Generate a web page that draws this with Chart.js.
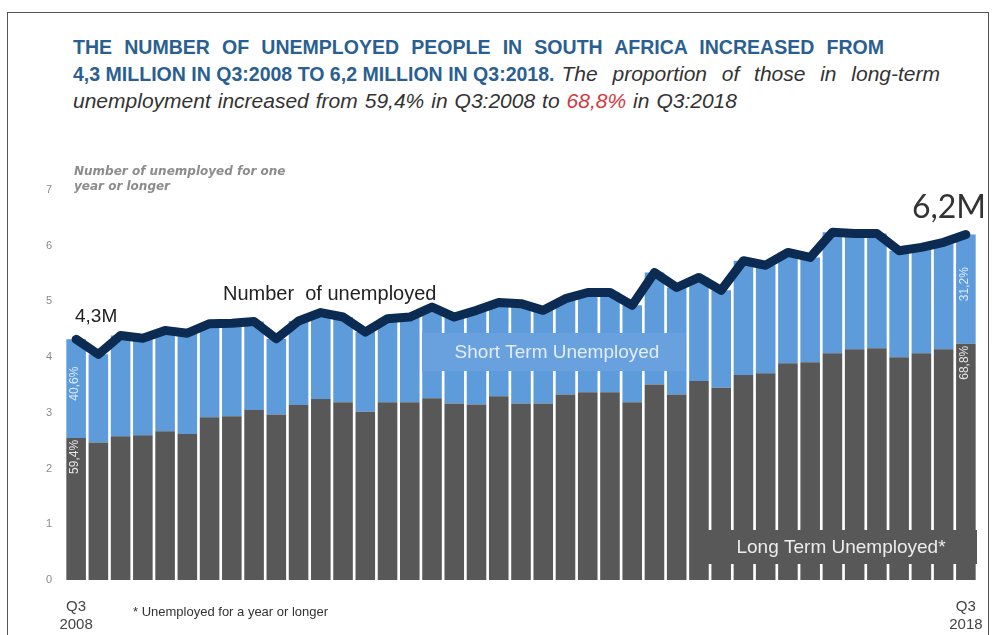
<!DOCTYPE html>
<html><head><meta charset="utf-8">
<script src="https://cdn.jsdelivr.net/npm/chart.js@4.4.1/dist/chart.umd.min.js"></script>
<style>
html,body{margin:0;padding:0;background:#fff;}
#wrap{position:relative;width:996px;height:635px;overflow:hidden;background:#fff;}
#frame{position:absolute;left:7px;top:12px;width:982px;height:700px;border:1px solid #555;box-sizing:border-box;}
.seg{position:absolute;white-space:nowrap;transform-origin:0 0;line-height:26px;font-family:"Liberation Sans",Arial,sans-serif;}
.b{font-weight:bold;font-size:21px;color:#2b5f91;}
.it{font-style:italic;font-size:21px;color:#333;}
.red{color:#d2393f;}
canvas{position:absolute;left:0;top:0;}
</style></head><body>
<div id="wrap">
<div id="frame"></div>
<div class="seg b" id="t1" data-scale="0.93" style="left:73px;top:34px;">THE NUMBER OF UNEMPLOYED PEOPLE IN SOUTH AFRICA INCREASED FROM</div>
<div class="seg b" id="t2" data-scale="0.93" style="left:73px;top:61px;">4,3 MILLION IN Q3:2008 TO 6,2 MILLION IN Q3:2018.</div>
<div class="seg it" id="t3" data-scale="1" style="left:580px;top:61px;">The proportion of those in long-term</div>
<div class="seg it" id="t4" data-scale="1" style="left:73px;top:88px;">unemployment increased from 59,4% in Q3:2008 to <span class="red">68,8%</span> in Q3:2018</div>
<canvas id="c" width="996" height="635"></canvas>
</div>
<script>
// fit text segments to the widths measured in the reference
function fit(el, T){
  const s = parseFloat(el.dataset.scale);
  const w0 = el.getBoundingClientRect().width;
  const n = (el.textContent.match(/ /g) || []).length;
  el.style.wordSpacing = ((T / s - w0) / n) + 'px';
  el.style.transform = 'scaleX(' + s + ')';
}
const t1=document.getElementById('t1'), t2=document.getElementById('t2'), t3=document.getElementById('t3'), t4=document.getElementById('t4');
fit(t1, 811);
t2.style.transform='scaleX(0.93)';
const t2right = 73 + t2.getBoundingClientRect().width;
t3.style.left = (t2right + 7) + 'px';
fit(t3, 940 - (t2right + 7));
fit(t4, 664);

const categories = [
 "Q3 2008","Q4 2008","Q1 2009","Q2 2009","Q3 2009","Q4 2009","Q1 2010","Q2 2010","Q3 2010","Q4 2010",
 "Q1 2011","Q2 2011","Q3 2011","Q4 2011","Q1 2012","Q2 2012","Q3 2012","Q4 2012","Q1 2013","Q2 2013",
 "Q3 2013","Q4 2013","Q1 2014","Q2 2014","Q3 2014","Q4 2014","Q1 2015","Q2 2015","Q3 2015","Q4 2015",
 "Q1 2016","Q2 2016","Q3 2016","Q4 2016","Q1 2017","Q2 2017","Q3 2017","Q4 2017","Q1 2018","Q2 2018","Q3 2018"
];
// millions
const totalUnemployed = [4.32,4.05,4.39,4.34,4.48,4.43,4.60,4.61,4.64,4.33,4.65,4.80,4.72,4.45,4.69,4.72,4.90,4.72,4.84,4.98,4.96,4.84,5.05,5.16,5.16,4.93,5.52,5.25,5.43,5.20,5.73,5.65,5.88,5.79,6.24,6.22,6.22,5.91,5.97,6.06,6.20];
const longTerm = [2.55,2.47,2.58,2.60,2.67,2.62,2.92,2.94,3.05,2.97,3.14,3.25,3.19,3.02,3.19,3.19,3.26,3.17,3.15,3.30,3.17,3.17,3.33,3.37,3.37,3.19,3.51,3.33,3.57,3.45,3.68,3.71,3.89,3.91,4.07,4.14,4.16,4.00,4.07,4.14,4.24];
const shortTerm = [1.77,1.58,1.81,1.74,1.81,1.81,1.68,1.67,1.59,1.36,1.51,1.55,1.53,1.43,1.50,1.53,1.64,1.55,1.69,1.68,1.79,1.67,1.72,1.79,1.79,1.74,2.01,1.92,1.86,1.75,2.05,1.94,1.99,1.88,2.17,2.08,2.06,1.91,1.90,1.92,1.96];
const yTicks = [0,1,2,3,4,5,6,7];
const firstLabel = ["Q3","2008"];
const lastLabel = ["Q3","2018"];
const pctStart = {short:"40,6%", long:"59,4%"};
const pctEnd = {short:"31,2%", long:"68,8%"};

const annot = {
  id:'annot',
  afterDatasetsDraw(chart){
    const {ctx, scales:{x,y}} = chart;
    ctx.save();
    // Short term box
    ctx.fillStyle = '#68a1de';
    ctx.fillRect(422,333,263,38);
    ctx.fillStyle = '#e3edf8';
    ctx.font = '19px "Liberation Sans", Arial, sans-serif';
    ctx.textAlign='center';ctx.textBaseline='middle';
    ctx.fillText('Short Term Unemployed', 557, 353);
    // Long term box
    ctx.fillStyle = '#585858';
    ctx.fillRect(700,530,277,34);
    ctx.fillStyle = '#ececec';
    ctx.fillText('Long Term Unemployed*', 841, 548);
    // rotated percentages
    ctx.font = '12px "Liberation Sans", Arial, sans-serif';
    const rot = (txt, px, py, align, col) => {
      ctx.save(); ctx.translate(px,py); ctx.rotate(-Math.PI/2);
      ctx.textAlign=align; ctx.textBaseline='middle'; ctx.fillStyle=col;
      ctx.fillText(txt,0,0); ctx.restore();
    };
    const last = categories.length-1;
    [[0,pctStart],[last,pctEnd]].forEach(([i,p])=>{
      const cx = x.getPixelForValue(i) - 1;
      const yl = y.getPixelForValue(longTerm[i]);
      const yt = y.getPixelForValue(totalUnemployed[i]);
      rot(p.short, cx, (yl+yt)/2 - 5, 'center', '#dfeaf7');
      rot(p.long, cx, yl + 2, 'right', '#e6e6e6');
    });
    // text labels
    ctx.textAlign='left';ctx.textBaseline='alphabetic';
    ctx.fillStyle='#222';
    ctx.font='19px "Liberation Sans", Arial, sans-serif';
    ctx.fillText('4,3M', 75, 322);
    ctx.font='20px "Liberation Sans", Arial, sans-serif';
    ctx.fillText('Number  of unemployed', 223, 300);
    ctx.font='32px Lato, "Liberation Sans", sans-serif';
    ctx.fillStyle='#333';
    ctx.textAlign='right';
    ctx.fillText('6,2M', 986, 218);
    ctx.textAlign='left';
    ctx.font='italic bold 12px "DejaVu Sans", sans-serif';
    ctx.fillStyle='#8c8c8c';
    ctx.fillText('Number of unemployed for one', 74, 175);
    ctx.fillText('year or longer', 74, 190);
    ctx.font='13px "Liberation Sans", Arial, sans-serif';
    ctx.fillStyle='#333';
    ctx.fillText('* Unemployed for a year or longer', 133, 616);
    ctx.restore();
  }
};

new Chart(document.getElementById('c'), {
  type:'bar',
  data:{
    labels:categories,
    datasets:[
      {label:'Long Term Unemployed*', data:longTerm, backgroundColor:'#585858', stack:'bars', order:1, barPercentage:0.88, categoryPercentage:1.0},
      {label:'Short Term Unemployed', data:shortTerm, backgroundColor:'#5d9bda', stack:'bars', order:1, barPercentage:0.88, categoryPercentage:1.0},
      {type:'line', label:'Number of unemployed', data:totalUnemployed, stack:'line', order:0, borderColor:'#0c2b52', borderWidth:9, pointRadius:0, tension:0, borderJoinStyle:'round', borderCapStyle:'round', fill:false}
    ]
  },
  options:{
    responsive:false, animation:false, devicePixelRatio:1,
    layout:{padding:{top:190,right:19,left:0,bottom:0}},
    plugins:{legend:{display:false}, tooltip:{enabled:false}},
    scales:{
      x:{stacked:true, grid:{display:false}, border:{display:false},
         afterFit:(s)=>{s.height=55;},
         ticks:{autoSkip:false, maxRotation:0, minRotation:0, padding:9, color:'#444',
           font:{family:'"Liberation Sans", Arial, sans-serif', size:15, lineHeight:1.25},
           callback:(v,i)=> i===0 ? firstLabel : (i===categories.length-1 ? lastLabel : '')}},
      y:{stacked:true, min:0, max:7, grid:{display:false}, border:{display:false},
         afterFit:(s)=>{s.width=65;},
         afterBuildTicks:(s)=>{s.ticks = yTicks.map(v=>({value:v}));},
         ticks:{padding:5, color:'#8a8a8a', font:{family:'"Liberation Sans", Arial, sans-serif', size:11}}}
    }
  },
  plugins:[annot]
});
</script>
</body></html>
